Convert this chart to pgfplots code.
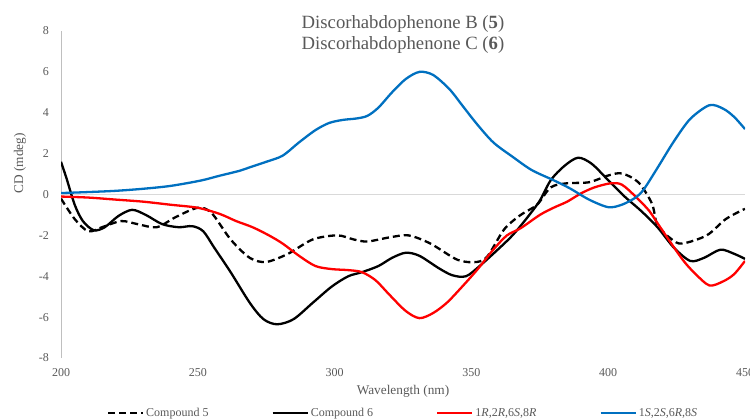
\documentclass[border=0pt]{standalone}
\usepackage{fontspec}
\setmainfont{Liberation Serif}
\usepackage{pgfplots}
\pgfplotsset{compat=1.18}
\definecolor{txtgray}{RGB}{89,89,89}
\definecolor{axgray}{RGB}{191,191,191}
\definecolor{zerogray}{RGB}{217,217,217}
\definecolor{cblue}{RGB}{0,112,192}
\definecolor{cred}{RGB}{255,0,0}
\begin{document}
\begin{tikzpicture}[x=1bp,y=1bp]
\useasboundingbox (0,0) rectangle (750,419);
\begin{axis}[
  at={(61bp,61bp)}, anchor=south west,
  scale only axis, width=684bp, height=327bp,
  xmin=200, xmax=450, ymin=-8, ymax=8,
  xtick={200,250,...,450}, ytick={-8,-6,...,8},
  axis lines*=left,
  x axis line style={draw=none},
  y axis line style={draw=axgray, line width=0.75bp, -},
  major tick length=0pt,
  tick label style={font=\fontsize{12bp}{14bp}\selectfont, text=txtgray},
  /pgf/number format/assume math mode=true,
  yticklabel style={inner sep=0pt, xshift=-12bp},
  xticklabel style={inner sep=0pt, yshift=-10bp},
  xlabel={Wavelength (nm)},
  ylabel={CD (mdeg)},
  label style={font=\fontsize{13.3bp}{15bp}\selectfont, text=txtgray},
  xlabel style={at={(axis description cs:0.5,-0.102)}, anchor=center},
  ylabel style={at={(axis description cs:-0.06,0.596)}, anchor=center},
  title={Discorhabdophenone B (\textbf{5})\\Discorhabdophenone C (\textbf{6})},
  title style={at={(axis description cs:0.5,0.970)}, anchor=center, align=center,
    font=\fontsize{18.7bp}{21bp}\selectfont, text=txtgray},
  legend columns=4,
  legend style={draw=none, fill=none, at={(axis description cs:0.5,-0.168)}, anchor=center,
    font=\fontsize{12bp}{14bp}\selectfont, text=txtgray,
    /tikz/every even column/.append style={column sep=61bp}},
  legend image code/.code={\draw[#1] (0bp,0bp) -- (35bp,0bp);},
  every axis plot/.append style={line width=2.3bp, smooth},
]
\draw[zerogray, line width=1.5bp] (axis cs:200,0) -- (axis cs:450,0);
% Compound 5
\addplot[black, dash pattern=on 7bp off 4bp] coordinates {
(200,-0.2) (205,-1.2) (210,-1.8) (215,-1.6) (222,-1.3) (228,-1.45) (235,-1.6) (242,-1.1) (250,-0.65) (255,-0.9) (262,-2.2) (269,-3.1) (275,-3.3) (283,-2.9) (292,-2.2) (301,-2.0) (307,-2.2) (312,-2.3) (320,-2.1) (327,-2.0) (335,-2.4) (345,-3.2) (352,-3.3) (356,-3.0) (362,-1.7) (368,-1.0) (374,-0.5) (379,0.35) (385,0.55) (393,0.6) (400,0.93) (405,1.03) (411,0.6) (416,-0.45) (418,-1.5) (423,-2.17) (427,-2.4) (436,-2.0) (443,-1.2) (450,-0.7)
};
\addlegendentry{Compound 5}
% Compound 6
\addplot[black] coordinates {
(200,1.6) (202,0.8) (205,-0.5) (208,-1.3) (212,-1.75) (216,-1.6) (221,-1.05) (226,-0.75) (231,-1.0) (237,-1.45) (243,-1.6) (248,-1.55) (252,-1.8) (256,-2.6) (262,-3.8) (269,-5.3) (274,-6.1) (279,-6.35) (285,-6.1) (292,-5.3) (299,-4.5) (305,-4.0) (310,-3.8) (316,-3.5) (321,-3.1) (326,-2.85) (331,-3.0) (338,-3.6) (343,-3.95) (348,-4.0) (353,-3.5) (360,-2.65) (365,-2.0) (370,-1.2) (375,-0.3) (379,0.7) (384,1.4) (389,1.8) (394,1.5) (400,0.7) (406,-0.1) (412,-0.8) (418,-1.6) (424,-2.6) (430,-3.25) (435,-3.1) (441,-2.7) (446,-2.9) (450,-3.15)
};
\addlegendentry{Compound 6}
% 1R,2R,6S,8R
\addplot[cred] coordinates {
(200,-0.1) (210,-0.15) (220,-0.25) (230,-0.35) (240,-0.5) (250,-0.65) (258,-0.95) (264,-1.3) (270,-1.6) (276,-2.0) (281,-2.4) (287,-3.0) (293,-3.5) (299,-3.65) (305,-3.7) (310,-3.8) (315,-4.2) (320,-4.9) (326,-5.7) (331,-6.05) (336,-5.8) (341,-5.3) (346,-4.6) (352,-3.7) (358,-2.7) (363,-2.0) (368,-1.65) (375,-1.0) (380,-0.65) (385,-0.35) (390,0.05) (395,0.35) (401,0.55) (405,0.48) (410,-0.1) (415,-0.8) (418,-1.4) (427,-3.15) (432,-3.9) (437,-4.45) (442,-4.25) (446,-3.9) (450,-3.25)
};
\addlegendentry{1\textit{R},2\textit{R},6\textit{S},8\textit{R}}
% 1S,2S,6R,8S
\addplot[cblue] coordinates {
(200,0.07) (210,0.12) (220,0.18) (230,0.28) (240,0.42) (251,0.68) (258,0.92) (265,1.15) (269,1.33) (275,1.6) (281,1.9) (287,2.55) (293,3.15) (298,3.5) (303,3.65) (308,3.72) (312,3.85) (316,4.25) (321,5.0) (326,5.65) (331,6.0) (336,5.85) (342,5.15) (347,4.3) (352,3.45) (358,2.55) (365,1.85) (372,1.2) (380,0.7) (386,0.3) (393,-0.25) (400,-0.62) (405,-0.5) (410,-0.15) (413,0.25) (418,1.3) (424,2.6) (430,3.7) (437,4.37) (442,4.2) (446,3.8) (450,3.2)
};
\addlegendentry{1\textit{S},2\textit{S},6\textit{R},8\textit{S}}
\end{axis}
\end{tikzpicture}
\end{document}
